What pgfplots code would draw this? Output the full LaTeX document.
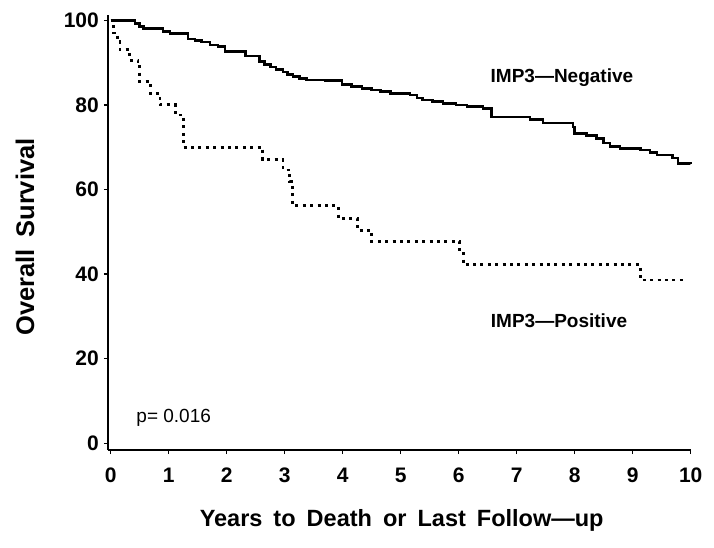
\documentclass[border=0pt]{standalone}
\usepackage{fontspec}
\setmainfont{Liberation Sans}
\usepackage{pgfplots}
\pgfplotsset{compat=1.18}

\pgfplotstableread{
x y
0 100
0.42 99.2
0.50 98.6
0.56 98.1
0.90 97.3
1.02 96.9
1.33 95.6
1.45 95.2
1.57 94.9
1.71 94.2
1.85 93.8
1.97 92.6
2.32 91.6
2.57 90.2
2.65 89.6
2.75 89.0
2.85 88.4
2.97 87.8
3.05 87.2
3.14 86.7
3.25 86.2
3.38 85.9
3.70 85.7
3.99 84.8
4.15 84.4
4.33 83.9
4.50 83.5
4.65 83.1
4.82 82.7
5.16 82.3
5.28 81.6
5.38 81.2
5.55 80.8
5.73 80.4
5.95 80.0
6.14 79.6
6.42 79.2
6.57 77.1
7.23 76.5
7.45 75.7
7.97 74.8
8.00 73.3
8.20 72.7
8.38 72.1
8.50 71.0
8.61 70.1
8.78 69.7
9.13 69.3
9.30 68.7
9.42 68.2
9.69 67.4
9.78 66.2
10.0 66.0
}\negdata

\pgfplotstableread{
x y
0 100
0.05 97.0
0.12 95.0
0.16 93.0
0.33 90.6
0.47 89.5
0.50 85.5
0.68 82.7
0.85 80.0
1.11 77.6
1.25 70.0
2.62 67.0
2.97 64.6
3.09 61.8
3.14 56.2
3.92 53.2
4.25 50.4
4.50 47.7
6.02 44.9
6.08 42.2
9.13 38.6
9.93 38.6
}\posdata

\begin{document}
\begin{tikzpicture}
\begin{axis}[
  scale only axis,
  width=582.7pt, height=435pt,
  xmin=-0.047, xmax=10, ymin=-1.58, ymax=101.25,
  axis x line=bottom, axis y line=left,
  axis line style={line width=2.6pt, -},
  xtick={0,1,...,10}, ytick={0,20,40,60,80,100},
  tick align=outside, major tick length=4pt,
  every tick/.style={black, line width=1.5pt},
  /pgf/number format/assume math mode=true,
  ticklabel style={font=\fontsize{21}{23}\selectfont\bfseries, inner sep=0pt},
  xticklabel style={anchor=north, text height=15pt, text depth=0pt, yshift=-13pt},
  yticklabel style={xshift=-5pt},
  xlabel={{\spaceskip=0.47em\relax Years to Death or Last Follow—up}},
  ylabel={{\spaceskip=0.45em\relax Overall Survival}},
  xlabel style={font=\fontsize{23.5}{26}\selectfont\bfseries,
    at={(axis description cs:0.504,0)}, anchor=center, yshift=-70pt},
  ylabel style={font=\fontsize{25.5}{28}\selectfont\bfseries,
    at={(axis description cs:-0.1424,0.49)}, anchor=center},
  clip=false,
]
\addplot[const plot, black, line width=2.6pt] table[x=x, y=y] {\negdata};
\addplot[const plot, black, line width=2.9pt, dash pattern=on 3pt off 4.4pt] table[x=x, y=y] {\posdata};
\node[font=\fontsize{19}{21}\selectfont\bfseries] at (axis cs:7.78,86.4) {IMP3—Negative};
\node[font=\fontsize{19}{21}\selectfont\bfseries] at (axis cs:7.73,29.0) {IMP3—Positive};
\node[font=\fontsize{19}{20}\selectfont, anchor=west, inner sep=0pt] at (axis cs:0.44,6.0) {p= 0.016};
\end{axis}
\pgfresetboundingbox
\useasboundingbox (-108pt,-97pt) rectangle (606pt,450pt);
\end{tikzpicture}
\end{document}
